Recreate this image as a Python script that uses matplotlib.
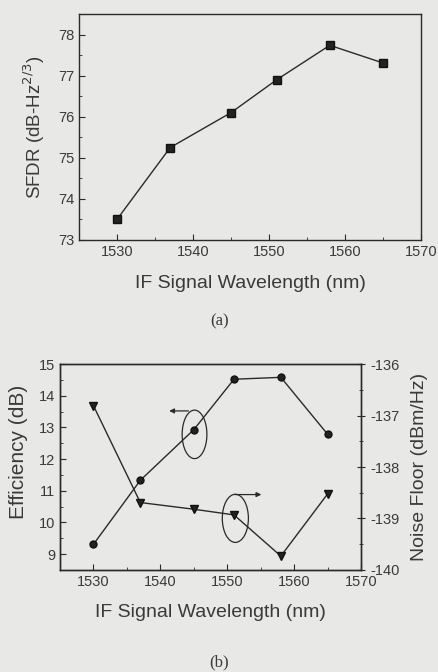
import matplotlib
matplotlib.use("Agg")
import matplotlib.pyplot as plt
from matplotlib.patches import Ellipse
from matplotlib.ticker import MultipleLocator

plt.rcParams['font.family'] = ['Liberation Sans', 'DejaVu Sans']
plt.rcParams['axes.unicode_minus'] = False

wavelength = [1530, 1537, 1545, 1551, 1558, 1565]
sfdr = [73.5, 75.25, 76.1, 76.9, 77.74, 77.31]
efficiency = [9.31, 11.33, 12.93, 14.52, 14.58, 12.78]
noise_floor = [-136.81, -138.69, -138.82, -138.93, -139.73, -138.52]

BG = '#e8e8e6'
FG = '#2a2a2a'
TXT = '#3a3a3a'

fig = plt.figure(figsize=(4.39, 6.72), dpi=100, facecolor=BG)

# ---- (a)
ax1 = fig.add_axes([0.180, 0.643, 0.779, 0.336])
ax1.set_facecolor(BG)
ax1.plot(wavelength, sfdr, '-s', color=FG, lw=1.0, ms=5.5, mfc='#222222', mec='#111111')
ax1.set_xlim(1525, 1570)
ax1.set_ylim(73, 78.5)
ax1.xaxis.set_major_locator(MultipleLocator(10))
ax1.xaxis.set_minor_locator(MultipleLocator(5))
ax1.yaxis.set_major_locator(MultipleLocator(1))
ax1.yaxis.set_minor_locator(MultipleLocator(0.5))
ax1.tick_params(which='both', direction='in', top=False, right=False, colors=FG, labelcolor=TXT, labelsize=10.5)
ax1.tick_params(which='major', length=4)
ax1.tick_params(which='minor', length=2.5)
for s in ax1.spines.values():
    s.set_color(FG)
    s.set_linewidth(1.0)
ax1.set_xlabel('IF Signal Wavelength (nm)', fontsize=14, color=TXT, labelpad=12)
ax1.set_ylabel(r'SFDR (dB-Hz$^{2/3}$)', fontsize=13.5, color=TXT, labelpad=8)
fig.text(0.5, 0.522, '(a)', ha='center', va='center', fontsize=12, family='Liberation Serif', color=TXT)

# ---- (b)
ax2 = fig.add_axes([0.1367, 0.1518, 0.686, 0.3065])
ax2.set_facecolor(BG)
ax2.plot(wavelength, efficiency, '-o', color=FG, lw=1.0, ms=5, mfc='#222222', mec='#111111')
ax2.set_xlim(1525, 1570)
ax2.set_ylim(8.5, 15)
ax2.xaxis.set_major_locator(MultipleLocator(10))
ax2.xaxis.set_minor_locator(MultipleLocator(5))
ax2.yaxis.set_major_locator(MultipleLocator(1))
ax2.yaxis.set_minor_locator(MultipleLocator(0.5))
ax2.tick_params(which='both', direction='in', top=False, colors=FG, labelcolor=TXT, labelsize=10.5)
ax2.tick_params(which='major', length=4)
ax2.tick_params(which='minor', length=2.5)
for s in ax2.spines.values():
    s.set_color(FG)
    s.set_linewidth(1.0)
ax2.set_xlabel('IF Signal Wavelength (nm)', fontsize=14, color=TXT, labelpad=11)
ax2.set_ylabel('Efficiency (dB)', fontsize=15, color=TXT, labelpad=8)
ax2.yaxis.label.set_y(0.573)

ax3 = ax2.twinx()
ax3.plot(wavelength, noise_floor, '-v', color=FG, lw=1.0, ms=5.5, mfc='#222222', mec='#111111')
ax3.set_ylim(-140, -136)
ax3.yaxis.set_major_locator(MultipleLocator(1))
ax3.yaxis.set_minor_locator(MultipleLocator(0.5))
ax3.tick_params(which='both', direction='inout', colors=FG, labelcolor=TXT, labelsize=10.5)
ax3.tick_params(which='major', length=6)
ax3.tick_params(which='minor', length=3)
for s in ax3.spines.values():
    s.set_color(FG)
    s.set_linewidth(1.0)
ax3.set_ylabel('Noise Floor (dBm/Hz)', fontsize=14, color=TXT, labelpad=8)

# annotations (ellipses + arrows) in efficiency-axis coordinates
ax2.add_patch(Ellipse((1545.1, 12.78), 3.7, 1.53, fill=False, ec=FG, lw=0.9, zorder=5))
ax2.annotate('', xy=(1540.9, 13.52), xytext=(1544.6, 13.52),
             arrowprops=dict(arrowstyle='-|>', color=FG, lw=0.9, mutation_scale=7))
ax2.add_patch(Ellipse((1551.2, 10.13), 3.9, 1.52, fill=False, ec=FG, lw=0.9, zorder=5))
ax2.annotate('', xy=(1555.5, 10.88), xytext=(1550.7, 10.88),
             arrowprops=dict(arrowstyle='-|>', color=FG, lw=0.9, mutation_scale=7))

fig.text(0.5, 0.015, '(b)', ha='center', va='center', fontsize=12, family='Liberation Serif', color=TXT)

fig.savefig('out.png', dpi=100, facecolor=BG)
